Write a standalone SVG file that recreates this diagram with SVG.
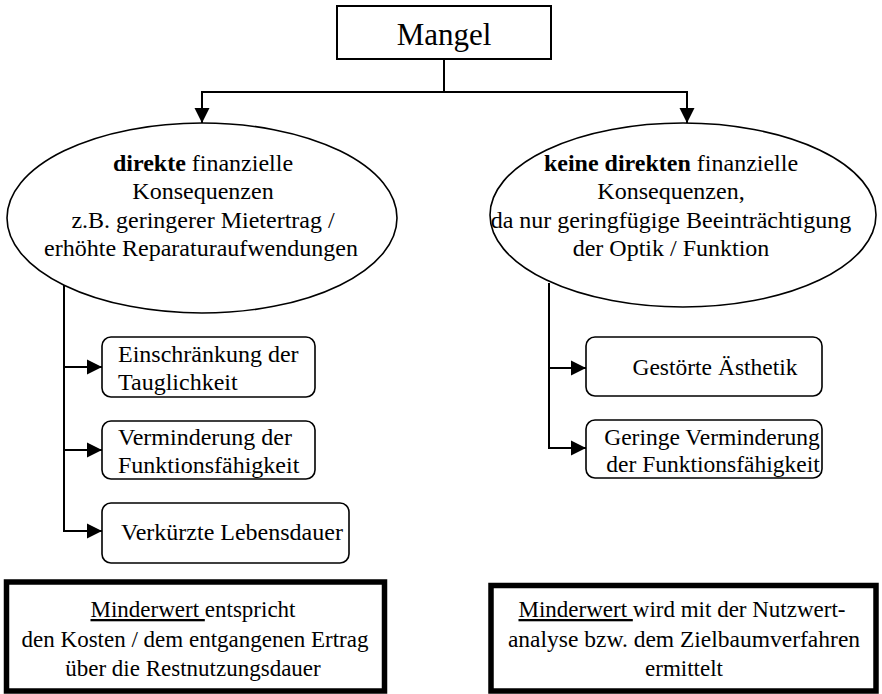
<svg xmlns="http://www.w3.org/2000/svg" width="882" height="694" viewBox="0 0 882 694" font-family="Liberation Serif">
<style>
.t24{font-size:24px}
.t235{font-size:23.5px}
.t23{font-size:23px}
.c{text-anchor:middle}
.conn{fill:none;stroke:#000;stroke-width:2}
.ell{fill:#fff;stroke:#000;stroke-width:1.6}
.rbox{fill:#fff;stroke:#000;stroke-width:1.6}
.thick{fill:#fff;stroke:#000;stroke-width:5.5}
.u{text-decoration:underline}
</style>
<defs>
<marker id="ah" markerUnits="userSpaceOnUse" markerWidth="16" markerHeight="16" refX="15" refY="8" orient="auto">
<path d="M0,0.5 L15,8 L0,15.5 Z" fill="#000"/>
</marker>
</defs>
<g id="connectors">
<path class="conn" d="M444,59 V92"/>
<path class="conn" d="M202,92 H687"/>
<path class="conn" d="M202,91 V123" marker-end="url(#ah)"/>
<path class="conn" d="M687,91 V123" marker-end="url(#ah)"/>
<path class="conn" d="M64,285 V532"/>
<path class="conn" d="M63,367 H102" marker-end="url(#ah)"/>
<path class="conn" d="M63,450 H102" marker-end="url(#ah)"/>
<path class="conn" d="M63,531 H102" marker-end="url(#ah)"/>
<path class="conn" d="M549,283 V449"/>
<path class="conn" d="M548,368 H586" marker-end="url(#ah)"/>
<path class="conn" d="M548,448 H586" marker-end="url(#ah)"/>
</g>
<g id="mangel" font-family="Liberation Serif">
<rect x="337" y="6" width="214" height="53" fill="#fff" stroke="#000" stroke-width="2"/>
<text class="c" x="444" y="45" font-size="31" font-family="Liberation Serif">Mangel</text>
</g>
<g id="direkt" font-family="Liberation Serif">
<ellipse class="ell" cx="202" cy="218" rx="195" ry="95"/>
<text class="t24 c" x="203" y="171" font-family="Liberation Serif"><tspan font-weight="bold">direkte</tspan> finanzielle</text>
<text class="t24 c" x="203" y="199" font-family="Liberation Serif">Konsequenzen</text>
<text class="t24 c" x="203" y="228" font-family="Liberation Serif">z.B. geringerer Mietertrag /</text>
<text class="t24 c" x="201" y="256" font-family="Liberation Serif">erhöhte Reparaturaufwendungen</text>
</g>
<g id="keine" font-family="Liberation Serif">
<ellipse class="ell" cx="683" cy="215" rx="193" ry="92"/>
<text class="t24 c" x="671" y="171" font-family="Liberation Serif"><tspan font-weight="bold">keine direkten</tspan> finanzielle</text>
<text class="t24 c" x="671" y="199" font-family="Liberation Serif">Konsequenzen,</text>
<text class="t24 c" x="671" y="228" font-family="Liberation Serif">da nur geringfügige Beeinträchtigung</text>
<text class="t24 c" x="671" y="256" font-family="Liberation Serif">der Optik / Funktion</text>
</g>
<g id="tauglichkeit" font-family="Liberation Serif">
<rect class="rbox" x="102" y="337" width="213" height="60" rx="9"/>
<text class="t24" x="118" y="362" font-family="Liberation Serif">Einschränkung der</text>
<text class="t24" x="118" y="390" font-family="Liberation Serif">Tauglichkeit</text>
</g>
<g id="funktion" font-family="Liberation Serif">
<rect class="rbox" x="102" y="421" width="213" height="58" rx="9"/>
<text class="t24" x="118" y="445" font-family="Liberation Serif">Verminderung der</text>
<text class="t24" x="118" y="473" font-family="Liberation Serif">Funktionsfähigkeit</text>
</g>
<g id="lebensdauer" font-family="Liberation Serif">
<rect class="rbox" x="102" y="503" width="247" height="60" rx="9"/>
<text class="t24" x="121" y="540" font-family="Liberation Serif">Verkürzte Lebensdauer</text>
</g>
<g id="aesthetik" font-family="Liberation Serif">
<rect class="rbox" x="586" y="337" width="236" height="59" rx="9"/>
<text class="t235 c" x="715" y="375" font-family="Liberation Serif">Gestörte Ästhetik</text>
</g>
<g id="geringe" font-family="Liberation Serif">
<rect class="rbox" x="586" y="420" width="236" height="58" rx="9"/>
<text class="t235 c" x="712" y="445" font-family="Liberation Serif">Geringe Verminderung</text>
<text class="t235 c" x="713" y="472" font-family="Liberation Serif">der Funktionsfähigkeit</text>
</g>
<g id="minderwert-links" font-family="Liberation Serif">
<rect class="thick" x="6.5" y="582" width="378" height="109"/>
<text class="t23 c" x="193" y="617" font-family="Liberation Serif"><tspan class="u">Minderwert </tspan>entspricht</text>
<text class="t23 c" x="195" y="647" font-family="Liberation Serif">den Kosten / dem entgangenen Ertrag</text>
<text class="t23 c" x="193" y="676" font-family="Liberation Serif">über die Restnutzungsdauer</text>
</g>
<g id="minderwert-rechts" font-family="Liberation Serif">
<rect class="thick" x="491" y="585.5" width="385" height="105.5"/>
<text class="t23 c" x="682" y="617" font-family="Liberation Serif"><tspan class="u">Minderwert </tspan>wird mit der Nutzwert-</text>
<text class="t235 c" x="684" y="647" font-family="Liberation Serif">analyse bzw. dem Zielbaumverfahren</text>
<text class="t23 c" x="684" y="676" font-family="Liberation Serif">ermittelt</text>
</g>
</svg>
